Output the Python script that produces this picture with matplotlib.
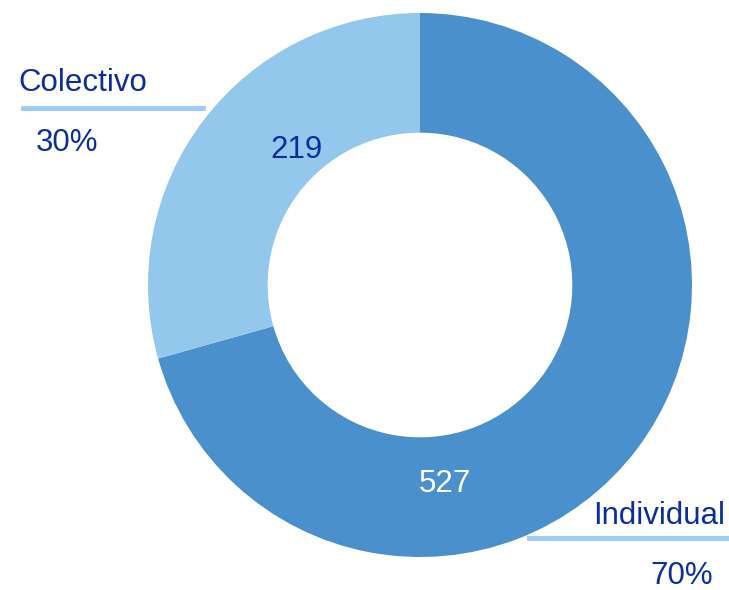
import matplotlib
matplotlib.use("Agg")
import matplotlib.pyplot as plt
from matplotlib.lines import Line2D

# data
categories = ["Individual", "Colectivo"]
counts = [527, 219]
percent_labels = ["70%", "30%"]
colors = ["#4a90cd", "#93c7ec"]

W, H = 729, 590
plt.rcParams['font.family'] = ['Liberation Sans', 'DejaVu Sans']
text_color = "#0a2e9e"

fig = plt.figure(figsize=(W / 100, H / 100), dpi=100)
# donut centre at about (420, 285) px, outer radius 272 px
ax = fig.add_axes([148 / W, 1 - 557 / H, 544 / W, 544 / H])
wedges, _ = ax.pie(counts, colors=colors, startangle=90, counterclock=False,
                   radius=1, wedgeprops=dict(width=0.44, linewidth=0))
ax.set_xlim(-1, 1)
ax.set_ylim(-1, 1)
ax.set_aspect("equal")
ax.axis("off")


def px(x, y):
    return x / W, 1 - y / H


# values inside the ring
fig.text(*px(445, 484), str(counts[0]), color="white", fontsize=22.5,
         ha="center", va="center")
fig.text(*px(297, 150), str(counts[1]), color=text_color, fontsize=22.5,
         ha="center", va="center")

# outside labels: Colectivo (top left)
fig.text(*px(18, 83), categories[1], color=text_color, fontsize=22.5,
         ha="left", va="center")
fig.add_artist(Line2D([23 / W, 203 / W], [1 - 108 / H, 1 - 108 / H],
                      color="#99ccf9", linewidth=3.5, transform=fig.transFigure))
fig.text(*px(67, 143), percent_labels[1], color=text_color, fontsize=22.5,
         ha="center", va="center")

# Individual (bottom right)
fig.text(*px(725, 516), categories[0], color=text_color, fontsize=22.5,
         ha="right", va="center")
fig.add_artist(Line2D([529 / W, 729 / W], [1 - 538 / H, 1 - 538 / H],
                      color="#99ccf9", linewidth=3.5, transform=fig.transFigure))
fig.text(*px(682, 576), percent_labels[0], color=text_color, fontsize=22.5,
         ha="center", va="center")

fig.savefig("out.png", dpi=100)
